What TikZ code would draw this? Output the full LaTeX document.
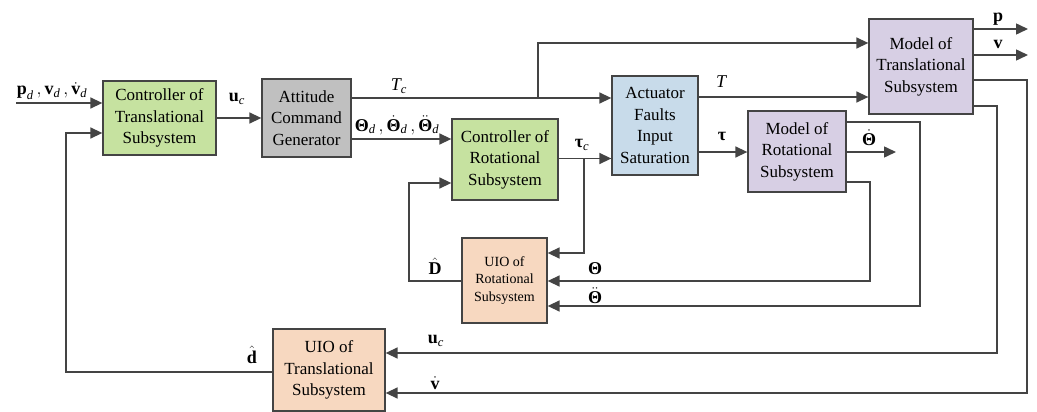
\RequirePackage{fix-cm}
\documentclass[tikz,border=0pt]{standalone}
\usepackage{amsmath}
\usepackage[no-math]{fontspec}
\setmainfont{Liberation Serif}
\newfontfamily\tnr{Liberation Serif}
\usetikzlibrary{arrows.meta,calc}
\newcommand{\bx}[1]{\text{\tnr\bfseries #1}}
\newcommand{\ix}[1]{\text{\tnr\itshape #1}}
\definecolor{gfill}{RGB}{198,226,160}
\definecolor{grfill}{RGB}{192,192,192}
\definecolor{bfill}{RGB}{200,219,234}
\definecolor{pfill}{RGB}{215,207,228}
\definecolor{ofill}{RGB}{247,216,192}
\definecolor{linec}{RGB}{68,68,68}
\begin{document}
\begin{tikzpicture}[x=1pt,y=-1pt,
  blk/.style={draw=linec, line width=1.3pt, align=center, inner sep=0pt,
    font=\tnr\fontsize{17}{21.5}\selectfont},
  smallblk/.style={blk, font=\tnr\fontsize{14}{17.5}\selectfont},
  arr/.style={draw=linec, line width=1.5pt, -{Triangle[length=12pt,width=11pt]}},
  lbl/.style={inner sep=0pt, font=\tnr\fontsize{18}{20}\selectfont}]
\useasboundingbox (0,0) rectangle (1037,412);

% blocks
\node[blk, fill=gfill, minimum width=113pt, minimum height=74pt] (ctrlT) at (159.5,118) {Controller of\\Translational\\Subsystem};
\node[blk, fill=grfill, minimum width=89pt, minimum height=78pt] (acg) at (306.5,118) {Attitude\\Command\\Generator};
\node[blk, fill=gfill, minimum width=106pt, minimum height=81pt] (ctrlR) at (505,159.5) {Controller of\\Rotational\\Subsystem};
\node[blk, fill=bfill, minimum width=86pt, minimum height=99pt] (act) at (655,125.5) {Actuator\\Faults\\Input\\Saturation};
\node[blk, fill=pfill, minimum width=98pt, minimum height=81pt] (modR) at (797,151.5) {Model of\\Rotational\\Subsystem};
\node[blk, fill=pfill, minimum width=104pt, minimum height=95pt] (modT) at (921,66.5) {Model of\\Translational\\Subsystem};
\node[smallblk, fill=ofill, minimum width=85pt, minimum height=85pt] (uioR) at (504.5,280.5) {UIO of\\Rotational\\Subsystem};
\node[blk, fill=ofill, minimum width=112pt, minimum height=82pt] (uioT) at (329,370) {UIO of\\Translational\\Subsystem};

% free ends
\coordinate (in0) at (16,103);
\coordinate (pout) at (1028,29);
\coordinate (vout) at (1028,55);
\coordinate (thdout) at (896,152);
\coordinate (jT) at (538,98);

% forward path
\draw[arr] (in0) -- (ctrlT.west |- in0);
\draw[arr] (ctrlT.east |- 0,118) -- (acg.west |- 0,118);
\draw[arr] (acg.east |- jT) -- (act.west |- jT);
\draw[arr] (jT) -- (538,43) -- (modT.west |- 0,43);
\draw[arr] (acg.east |- 0,139) -- (ctrlR.west |- 0,139);
\draw[arr] (ctrlR.east |- 0,158.5) -- (act.west |- 0,158.5);
\draw[arr] (584,158.5) -- (584,253) -- (uioR.east |- 0,253);
\draw[arr] (act.east |- 0,97) -- (modT.west |- 0,97);
\draw[arr] (act.east |- 0,152) -- (modR.west |- 0,152);
\draw[arr] (modR.east |- thdout) -- (thdout);
\draw[arr] (modT.east |- pout) -- (pout);
\draw[arr] (modT.east |- vout) -- (vout);

% feedback
\draw[arr] (modT.east |- 0,80) -- (1027,80) -- (1027,393) -- (uioT.east |- 0,393);
\draw[arr] (modT.east |- 0,106) -- (997,106) -- (997,353) -- (uioT.east |- 0,353);
\draw[arr] (modR.east |- 0,122) -- (920,122) -- (920,306) -- (uioR.east |- 0,306);
\draw[arr] (modR.east |- 0,182) -- (870,182) -- (870,281) -- (uioR.east |- 0,281);
\draw[arr] (uioR.west |- 0,281) -- (409,281) -- (409,183) -- (ctrlR.west |- 0,183);
\draw[arr] (uioT.west |- 0,372) -- (66,372) -- (66,133) -- (ctrlT.west |- 0,133);

% labels
\node[lbl] (l1) at (52,91) {$\bx{p}_{\ix{d}}\,,\bx{v}_{\ix{d}}\,,\dot{\bx{v}}_{\ix{d}}$};
\node[lbl] (l2) at (237,99) {$\bx{u}_{\ix{c}}$};
\node[lbl] (l3) at (399,86) {$\ix{T}_{\ix{c}}$};
\node[lbl] (l4) at (397,125) {$\bx{Θ}_{\ix{d}}\,,\dot{\bx{Θ}}_{\ix{d}}\,,\ddot{\bx{Θ}}_{\ix{d}}$};
\node[lbl] (l5) at (582,145) {$\bx{τ}_{\ix{c}}$};
\node[lbl] (l6) at (721,82) {$\ix{T}$};
\node[lbl] (l7) at (722,136) {$\bx{τ}$};
\node[lbl] (l8) at (869,138) {$\dot{\bx{Θ}}$};
\node[lbl] (l9) at (998,19) {$\bx{p}$};
\node[lbl] (l10) at (998,44) {$\bx{v}$};
\node[lbl] (l11) at (435,266) {$\hat{\bx{D}}$};
\node[lbl] (l12) at (595,269) {$\bx{Θ}$};
\node[lbl] (l13) at (595,296) {$\ddot{\bx{Θ}}$};
\node[lbl] (l14) at (436,341) {$\bx{u}_{\ix{c}}$};
\node[lbl] (l15) at (435,383) {$\dot{\bx{v}}$};
\node[lbl] (l16) at (252,355) {$\hat{\bx{d}}$};
\end{tikzpicture}
\end{document}
